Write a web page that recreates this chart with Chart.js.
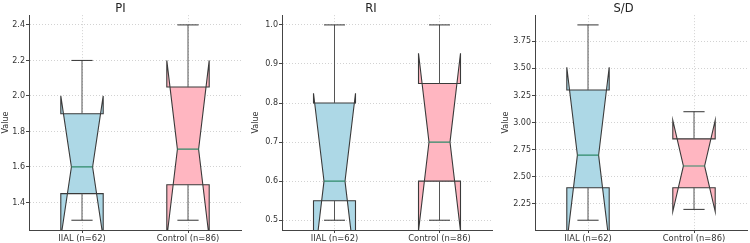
<!DOCTYPE html>
<html><head><meta charset="utf-8">
<script src="https://cdn.jsdelivr.net/npm/chart.js@4/dist/chart.umd.min.js"></script>
<style>
html,body{margin:0;padding:0;background:#fff;}
#wrap{position:relative;width:750px;height:243px;overflow:hidden;}
canvas{position:absolute;top:0;}
</style></head><body>
<div id="wrap">
<canvas id="c0" width="250" height="243" style="left:0px"></canvas>
<canvas id="c1" width="250" height="243" style="left:250px"></canvas>
<canvas id="c2" width="250" height="243" style="left:500px"></canvas>
</div>
<script>
// ---- data ----
const categories = ["IIAL (n=62)", "Control (n=86)"];
const panelTitles = ["PI", "RI", "S/D"];

const piMin = [1.30, 1.30];
const piQ1 = [1.45, 1.50];
const piMed = [1.60, 1.70];
const piQ3 = [1.90, 2.05];
const piMax = [2.20, 2.40];
const piNotchLo = [1.20, 1.20];
const piNotchHi = [2.00, 2.20];

const riMin = [0.50, 0.50];
const riQ1 = [0.55, 0.60];
const riMed = [0.60, 0.70];
const riQ3 = [0.80, 0.85];
const riMax = [1.00, 1.00];
const riNotchLo = [0.375, 0.4725];
const riNotchHi = [0.825, 0.9275];

const sdMin = [2.10, 2.20];
const sdQ1 = [2.40, 2.40];
const sdMed = [2.70, 2.60];
const sdQ3 = [3.30, 2.85];
const sdMax = [3.90, 3.10];
const sdNotchLo = [1.89, 2.18];
const sdNotchHi = [3.51, 3.02];

const piTicks = [1.4, 1.6, 1.8, 2.0, 2.2, 2.4];
const riTicks = [0.5, 0.6, 0.7, 0.8, 0.9, 1.0];
const sdTicks = [2.25, 2.50, 2.75, 3.00, 3.25, 3.50, 3.75];

const boxColors = ["#add8e6", "#ffb6c1"];

// ---- chart building ----
const FONT = "'DejaVu Sans', sans-serif";
const panels = [
  {id:"c0", title:panelTitles[0], min:piMin, q1:piQ1, med:piMed, q3:piQ3, max:piMax, lo:piNotchLo, hi:piNotchHi, ticks:piTicks, dec:1, yw:29, pr:9},
  {id:"c1", title:panelTitles[1], min:riMin, q1:riQ1, med:riMed, q3:riQ3, max:riMax, lo:riNotchLo, hi:riNotchHi, ticks:riTicks, dec:1, yw:32, pr:8},
  {id:"c2", title:panelTitles[2], min:sdMin, q1:sdQ1, med:sdMed, q3:sdQ3, max:sdMax, lo:sdNotchLo, hi:sdNotchHi, ticks:sdTicks, dec:2, yw:35, pr:3}
];

const notchBoxPlugin = {
  id: 'notchBox',
  afterDatasetsDraw(chart) {
    const p = chart.options.plugins.notchBox.panel;
    const ys = chart.scales.y;
    const meta = chart.getDatasetMeta(0);
    const ctx = chart.ctx;
    const ca = chart.chartArea;
    const Y = v => ys.getPixelForValue(v);
    ctx.save();
    ctx.beginPath();
    ctx.rect(ca.left, ca.top, ca.right - ca.left, ca.bottom - ca.top);
    ctx.clip();
    meta.data.forEach((el, i) => {
      const cx = el.x, w = el.width;
      const L = cx - w / 2, R = cx + w / 2, cl = cx - w / 4, cr = cx + w / 4;
      // notched box polygon
      ctx.beginPath();
      ctx.moveTo(L, Y(p.q1[i]));
      ctx.lineTo(R, Y(p.q1[i]));
      ctx.lineTo(R, Y(p.lo[i]));
      ctx.lineTo(cr, Y(p.med[i]));
      ctx.lineTo(R, Y(p.hi[i]));
      ctx.lineTo(R, Y(p.q3[i]));
      ctx.lineTo(L, Y(p.q3[i]));
      ctx.lineTo(L, Y(p.hi[i]));
      ctx.lineTo(cl, Y(p.med[i]));
      ctx.lineTo(L, Y(p.lo[i]));
      ctx.closePath();
      ctx.fillStyle = boxColors[i];
      ctx.fill();
      ctx.lineWidth = 1.1;
      ctx.strokeStyle = "#3a3a3a";
      ctx.lineJoin = "miter";
      ctx.stroke();
      // whiskers
      ctx.beginPath();
      ctx.lineWidth = 1;
      ctx.strokeStyle = "#555";
      ctx.moveTo(cx, Y(p.q3[i])); ctx.lineTo(cx, Y(p.max[i]));
      ctx.moveTo(cx, Y(p.q1[i])); ctx.lineTo(cx, Y(p.min[i]));
      ctx.stroke();
      // caps
      ctx.beginPath();
      ctx.strokeStyle = "#333";
      ctx.moveTo(cl, Y(p.max[i])); ctx.lineTo(cr, Y(p.max[i]));
      ctx.moveTo(cl, Y(p.min[i])); ctx.lineTo(cr, Y(p.min[i]));
      ctx.stroke();
      // median
      ctx.beginPath();
      ctx.strokeStyle = "#2f8a68";
      ctx.lineWidth = 1.2;
      ctx.moveTo(cl, Y(p.med[i])); ctx.lineTo(cr, Y(p.med[i]));
      ctx.stroke();
    });
    ctx.restore();
  }
};

panels.forEach(p => {
  const lo = Math.min(...p.min), hi = Math.max(...p.max);
  const margin = 0.05 * (hi - lo);
  new Chart(document.getElementById(p.id), {
    type: 'bar',
    data: {
      labels: categories,
      datasets: [{
        data: p.q1.map((v, i) => [v, p.q3[i]]),
        backgroundColor: 'rgba(0,0,0,0)',
        borderWidth: 0,
        barPercentage: 0.4,
        categoryPercentage: 1.0
      }]
    },
    options: {
      responsive: false,
      animation: false,
      devicePixelRatio: 1,
      layout: {padding: {left: 0, right: p.pr, top: 0, bottom: 0}},
      plugins: {
        legend: {display: false},
        tooltip: {enabled: false},
        title: {display: true, text: p.title, color: '#222',
          font: {family: FONT, size: 11.5, weight: 'normal', lineHeight: 1.1}, padding: {top: 2.5, bottom: 0}},
        notchBox: {panel: p}
      },
      scales: {
        x: {
          type: 'category',
          offset: true,
          afterFit: s => { s.height = 13; },
          grid: {display: true, offset: false, color: '#d2d2d2',
                 drawTicks: true, tickLength: 3, tickColor: '#444', tickBorderDash: []},
          border: {display: true, color: '#444', width: 1, dash: [1, 2]},
          ticks: {font: {family: FONT, size: 8.4}, color: '#333', padding: 1, maxRotation: 0}
        },
        y: {
          type: 'linear',
          min: lo - margin,
          max: hi + margin,
          afterFit: s => { s.width = p.yw; },
          afterBuildTicks: s => { s.ticks = p.ticks.map(v => ({value: v})); },
          grid: {display: true, color: '#d2d2d2',
                 drawTicks: true, tickLength: 3, tickColor: '#444', tickBorderDash: []},
          border: {display: true, color: '#444', width: 1, dash: [1, 2]},
          ticks: {font: {family: FONT, size: 8}, color: '#333', padding: 1,
                  callback: v => Number(v).toFixed(p.dec)},
          title: {display: true, text: 'Value', color: '#333',
                  font: {family: FONT, size: 8}, padding: {top: 1, bottom: 0}}
        }
      }
    },
    plugins: [notchBoxPlugin]
  });
});
</script>
</body></html>
